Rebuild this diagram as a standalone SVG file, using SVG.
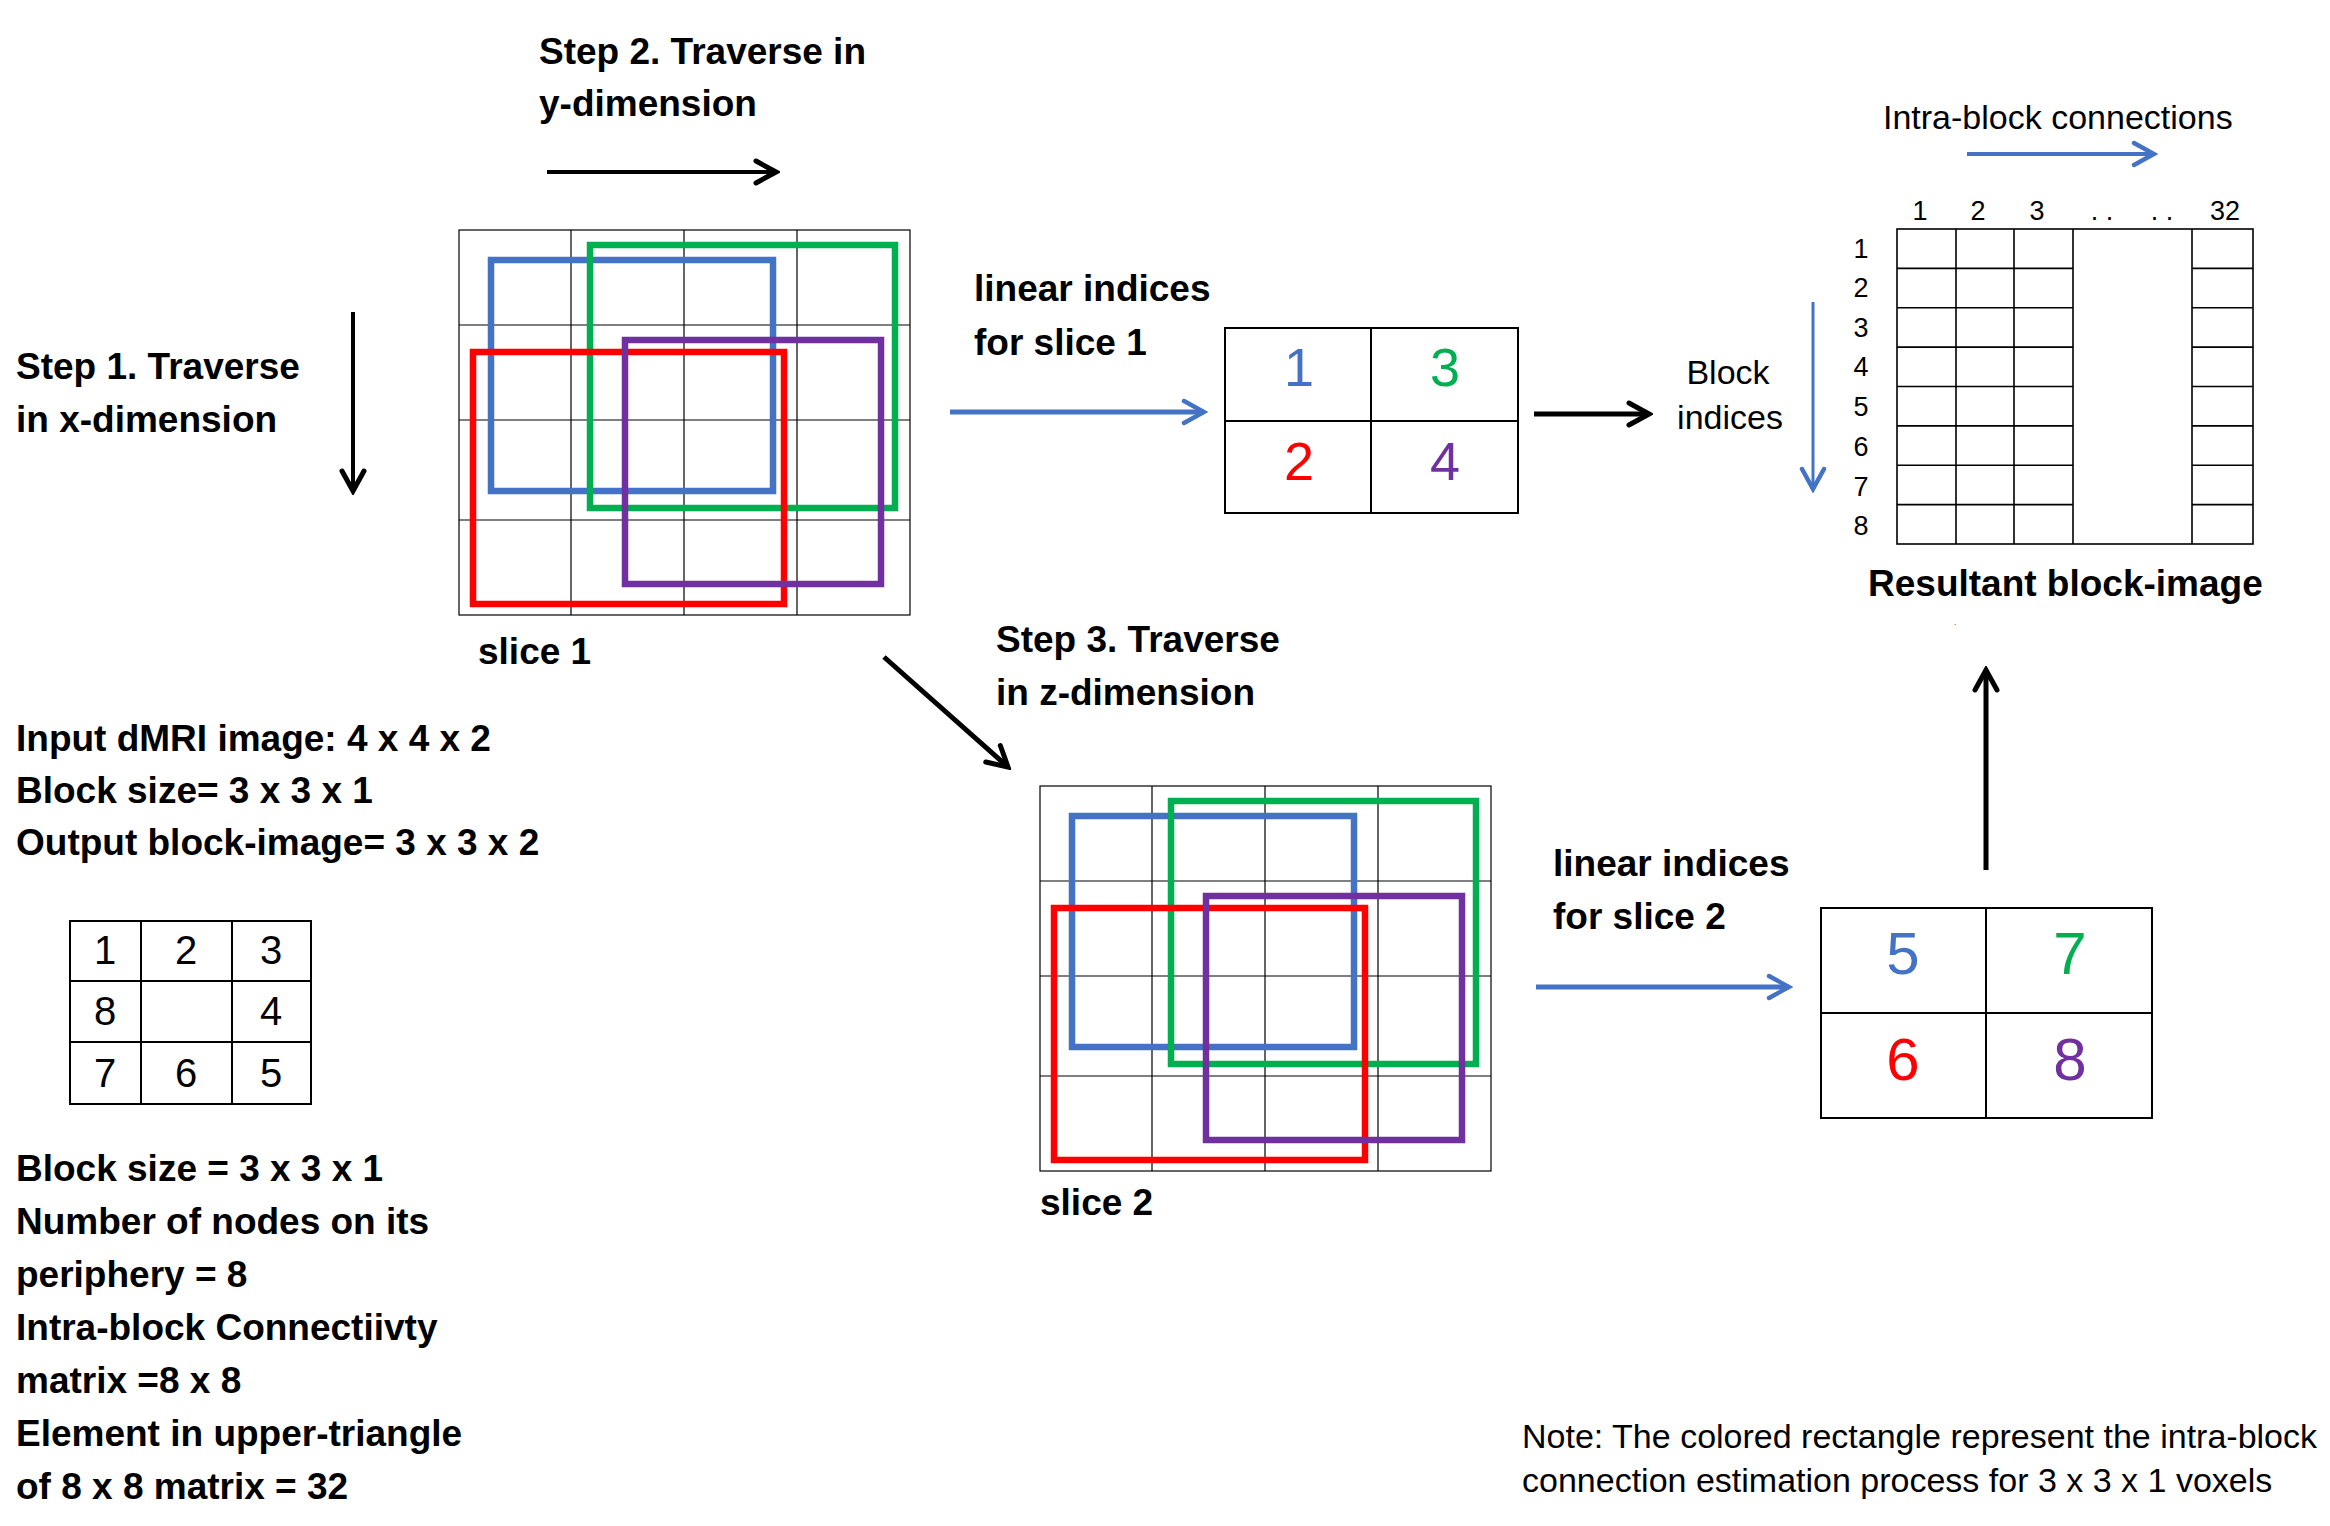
<svg xmlns="http://www.w3.org/2000/svg" width="2330" height="1526" viewBox="0 0 2330 1526">
<style>
text{font-family:"Liberation Sans",Arial,sans-serif;fill:#000}
.b{font-weight:bold;font-size:37px}
.n{font-size:34px}
.lab{font-size:27px}
.sm{font-size:40px}
.grid{fill:none;stroke:#000;stroke-width:1.2}
.box{fill:none;stroke:#000;stroke-width:2}
.mx{fill:none;stroke:#000;stroke-width:1.6}
.cr{fill:none;stroke-width:6.5}
.blue{stroke:#4472C4}.green{stroke:#00B050}.red{stroke:#FF0000}.purple{stroke:#7030A0}
.arrK{stroke:#000;fill:none;marker-end:url(#mk)}
.arrB{stroke:#4472C4;fill:none;marker-end:url(#mb)}
.c{text-anchor:middle}
</style>
<defs>
<marker id="mk" markerUnits="userSpaceOnUse" viewBox="-24 -14 28 28" refX="0" refY="0" markerWidth="28" markerHeight="28" orient="auto">
<path d="M-20,-11 L0,0 L-20,11" fill="none" stroke="#000" stroke-width="5" stroke-linecap="round" stroke-linejoin="miter"/>
</marker>
<marker id="mb" markerUnits="userSpaceOnUse" viewBox="-24 -14 28 28" refX="0" refY="0" markerWidth="28" markerHeight="28" orient="auto">
<path d="M-20,-11 L0,0 L-20,11" fill="none" stroke="#4472C4" stroke-width="4.5" stroke-linecap="round"/>
</marker>
<g id="sliceGrid">
<rect class="grid" x="459" y="230" width="451" height="385"/>
<path class="grid" d="M571,230V615M684,230V615M797,230V615M459,325H910M459,420H910M459,520H910"/>
<rect class="cr blue" x="491" y="260" width="282" height="231"/>
<rect class="cr green" x="590" y="245" width="305" height="263"/>
<rect class="cr red" x="473" y="352" width="311" height="252"/>
<rect class="cr purple" x="625" y="340" width="256" height="244"/>
</g>
</defs>

<g id="step2-label">
<text class="b" x="539" y="64">Step 2. Traverse in</text>
<text class="b" x="539" y="116">y-dimension</text>
</g>
<g id="step1-label">
<text class="b" x="16" y="379">Step 1. Traverse</text>
<text class="b" x="16" y="432">in x-dimension</text>
</g>

<g id="slice1">
<use href="#sliceGrid"/>
<text class="b" x="478" y="664">slice 1</text>
</g>

<g id="slice2">
<use href="#sliceGrid" transform="translate(581,556)"/>
<text class="b" x="1040" y="1215">slice 2</text>
</g>

<g id="linear1-label">
<text class="b" x="974" y="301">linear indices</text>
<text class="b" x="974" y="355">for slice 1</text>
</g>

<g id="indices1">
<rect class="box" x="1225" y="328" width="293" height="185"/>
<path class="box" d="M1371,328V513M1225,421H1518"/>
<text class="c" x="1299" y="386" font-size="54" style="fill:#4472C4">1</text>
<text class="c" x="1445" y="386" font-size="54" style="fill:#00B050">3</text>
<text class="c" x="1299" y="480" font-size="54" style="fill:#FF0000">2</text>
<text class="c" x="1445" y="480" font-size="54" style="fill:#7030A0">4</text>
</g>

<g id="block-indices-label">
<text class="n c" x="1728" y="384">Block</text>
<text class="n c" x="1730" y="429">indices</text>
</g>

<g id="intra-label">
<text class="n" x="1883" y="129">Intra-block connections</text>
</g>

<g id="block-image">
<rect class="mx" x="1897" y="229" width="356" height="315"/>
<path class="mx" d="M1956,229V544M2014,229V544M2073,229V544M2192,229V544
M1897,268.4H2073M1897,307.8H2073M1897,347.1H2073M1897,386.5H2073M1897,425.9H2073M1897,465.3H2073M1897,504.6H2073
M2192,268.4H2253M2192,307.8H2253M2192,347.1H2253M2192,386.5H2253M2192,425.9H2253M2192,465.3H2253M2192,504.6H2253"/>
<text class="lab c" x="1920" y="220">1</text>
<text class="lab c" x="1978" y="220">2</text>
<text class="lab c" x="2037" y="220">3</text>
<text class="lab c" x="2102" y="220">. .</text>
<text class="lab c" x="2162" y="220">. .</text>
<text class="lab c" x="2225" y="220">32</text>
<text class="lab c" x="1861" y="258">1</text>
<text class="lab c" x="1861" y="297">2</text>
<text class="lab c" x="1861" y="337">3</text>
<text class="lab c" x="1861" y="376">4</text>
<text class="lab c" x="1861" y="416">5</text>
<text class="lab c" x="1861" y="456">6</text>
<text class="lab c" x="1861" y="496">7</text>
<text class="lab c" x="1861" y="535">8</text>
<text class="b" x="1868" y="596">Resultant block-image</text>
<text x="1954" y="625" font-size="8">.</text>
</g>

<g id="step3-label">
<text class="b" x="996" y="652">Step 3. Traverse</text>
<text class="b" x="996" y="705">in z-dimension</text>
</g>

<g id="input-info">
<text class="b" x="16" y="751">Input dMRI image: 4 x 4 x 2</text>
<text class="b" x="16" y="803">Block size= 3 x 3 x 1</text>
<text class="b" x="16" y="855">Output block-image= 3 x 3 x 2</text>
</g>

<g id="periphery-grid">
<rect class="box" x="70" y="921" width="241" height="183"/>
<path class="box" d="M141,921V1104M232,921V1104M70,981H311M70,1042H311"/>
<text class="sm c" x="105" y="964">1</text>
<text class="sm c" x="186" y="964">2</text>
<text class="sm c" x="271" y="964">3</text>
<text class="sm c" x="105" y="1025">8</text>
<text class="sm c" x="271" y="1025">4</text>
<text class="sm c" x="105" y="1087">7</text>
<text class="sm c" x="186" y="1087">6</text>
<text class="sm c" x="271" y="1087">5</text>
</g>

<g id="block-info">
<text class="b" x="16" y="1181">Block size = 3 x 3 x 1</text>
<text class="b" x="16" y="1234">Number of nodes on its</text>
<text class="b" x="16" y="1287">periphery = 8</text>
<text class="b" x="16" y="1340">Intra-block Connectiivty</text>
<text class="b" x="16" y="1393">matrix =8 x 8</text>
<text class="b" x="16" y="1446">Element in upper-triangle</text>
<text class="b" x="16" y="1499">of 8 x 8 matrix = 32</text>
</g>

<g id="linear2-label">
<text class="b" x="1553" y="876">linear indices</text>
<text class="b" x="1553" y="929">for slice 2</text>
</g>

<g id="indices2">
<rect class="box" x="1821" y="908" width="331" height="210"/>
<path class="box" d="M1986,908V1118M1821,1013H2152"/>
<text class="c" x="1903" y="974" font-size="60" style="fill:#4472C4">5</text>
<text class="c" x="2070" y="974" font-size="60" style="fill:#00B050">7</text>
<text class="c" x="1903" y="1080" font-size="60" style="fill:#FF0000">6</text>
<text class="c" x="2070" y="1080" font-size="60" style="fill:#7030A0">8</text>
</g>

<g id="note">
<text class="n" x="1522" y="1448">Note: The colored rectangle represent the intra-block</text>
<text class="n" x="1522" y="1492">connection estimation process for 3 x 3 x 1 voxels</text>
</g>

<g id="connectors">
<path class="arrK" stroke-width="4" d="M547,172H776"/>
<path class="arrK" stroke-width="4" d="M353,312V491"/>
<path class="arrB" stroke-width="5" d="M950,412H1204"/>
<path class="arrK" stroke-width="5" d="M1534,414H1649"/>
<path class="arrB" stroke-width="3" d="M1813,302V489"/>
<path class="arrB" stroke-width="4" d="M1967,154H2154"/>
<path class="arrK" stroke-width="5" d="M884,657L1008,767"/>
<path class="arrB" stroke-width="5" d="M1536,987H1789"/>
<path class="arrK" stroke-width="5" d="M1986,870V670"/>
</g>
</svg>
